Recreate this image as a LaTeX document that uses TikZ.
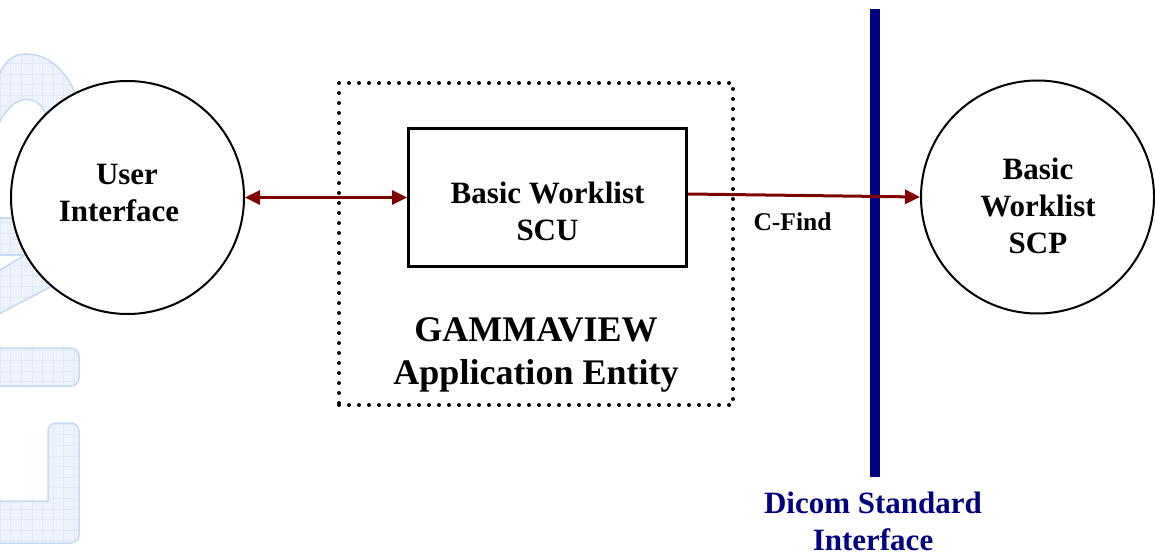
\documentclass[tikz,border=0pt]{standalone}
\usepackage{fontspec}
\setmainfont{Liberation Serif}
\usetikzlibrary{arrows.meta}
\definecolor{darkred}{RGB}{128,0,0}
\definecolor{navyb}{RGB}{0,0,128}
\definecolor{wmfill}{RGB}{238,243,251}
\definecolor{wmline}{RGB}{198,218,242}
\definecolor{wmgrid}{RGB}{224,234,247}
\def\wmA{(-3,80) .. controls (4,60) and (14,54) .. (25,54) .. controls (50,54) and (68,72) .. (78,100) -- (100,160) -- (40,160) -- (45,112) .. controls (36,94) and (12,92) .. (-3,128) -- cycle}
\def\wmB{(-5,218) -- (40,218) -- (40,255) -- (-5,255) -- cycle}
\def\wmC{(-5,273) -- (120,198) -- (150,235) -- (-5,316) -- cycle}
\def\wmD{[rounded corners=8pt] (-10,348) -- (79,348) -- (79,386) -- (-10,386) -- cycle}
\def\wmE{(-10,501) -- (48,501) [rounded corners=8pt] -- (48,423) -- (79,423) -- (79,543) -- (-10,543) [sharp corners] -- cycle}
\begin{document}
\begin{tikzpicture}[x=1pt,y=-1pt,
  txt/.style={font=\fontsize{31}{37}\selectfont\bfseries, align=center, inner sep=0pt},
  bigtxt/.style={font=\fontsize{36}{43}\selectfont\bfseries, align=center, inner sep=0pt},
  smalltxt/.style={font=\fontsize{25.5}{30}\selectfont\bfseries, inner sep=0pt},
  ent/.style={circle, draw=black, line width=2pt, fill=white, minimum size=233pt, inner sep=0pt},
  scubox/.style={rectangle, draw=black, line width=3.4pt, minimum width=277.6pt, minimum height=137.6pt, inner sep=0pt},
  aebox/.style={rectangle, draw=black, line width=4pt, dash pattern=on 0pt off 10pt, line cap=round, minimum width=394pt, minimum height=322pt, inner sep=0pt},
  link/.style={draw=darkred, line width=3pt},
  tri/.tip={Triangle[length=15pt,width=14pt]},
  gridlines/.style={draw=wmgrid, line width=0.6pt},
  wmedge/.style={draw=wmline, line width=1.5pt},
  dicomline/.style={draw=navyb, line width=10pt},
]
\useasboundingbox (0,0) rectangle (1155,556);
% watermark
\foreach \shp in {\wmA,\wmB,\wmC,\wmD,\wmE}{
  \fill[wmfill] \shp;
  \begin{scope}
    \clip \shp;
    \draw[gridlines, step=10.6pt] (-20,0) grid (160,556);
  \end{scope}
  \draw[wmedge] \shp;
}
% main nodes
\node[ent] (ui) at (127.5,197.5) {};
\node[ent] (scp) at (1037.5,197) {};
\node[aebox] (ae) at (536,244) {};
\node[scubox] (scu) at (547.5,197.5) {};
% texts
\node[txt] (uit) at (119,193) {\hspace*{16pt}User\\Interface};
\node[txt] (scut) at (547.5,211) {Basic Worklist\\SCU};
\node[txt] (scpt) at (1038,206) {Basic\\Worklist\\SCP};
\node[bigtxt] (aet) at (536,355) {GAMMAVIEW\\Application Entity};
\node[smalltxt] (cf) at (792.5,222) {C-Find};
\node[txt, text=navyb] (dsi) at (873,521.5) {Dicom Standard\\Interface};
% dicom interface line
\coordinate (dtop) at (875,9);
\coordinate (dbot) at (875,477);
\draw[dicomline] (dtop) -- (dbot);
% connectors
\draw[link, tri-tri] (ui) -- (scu);
\draw[link, -tri] ([yshift=3.5pt]scu.east) -- (scp.west);
\end{tikzpicture}
\end{document}
